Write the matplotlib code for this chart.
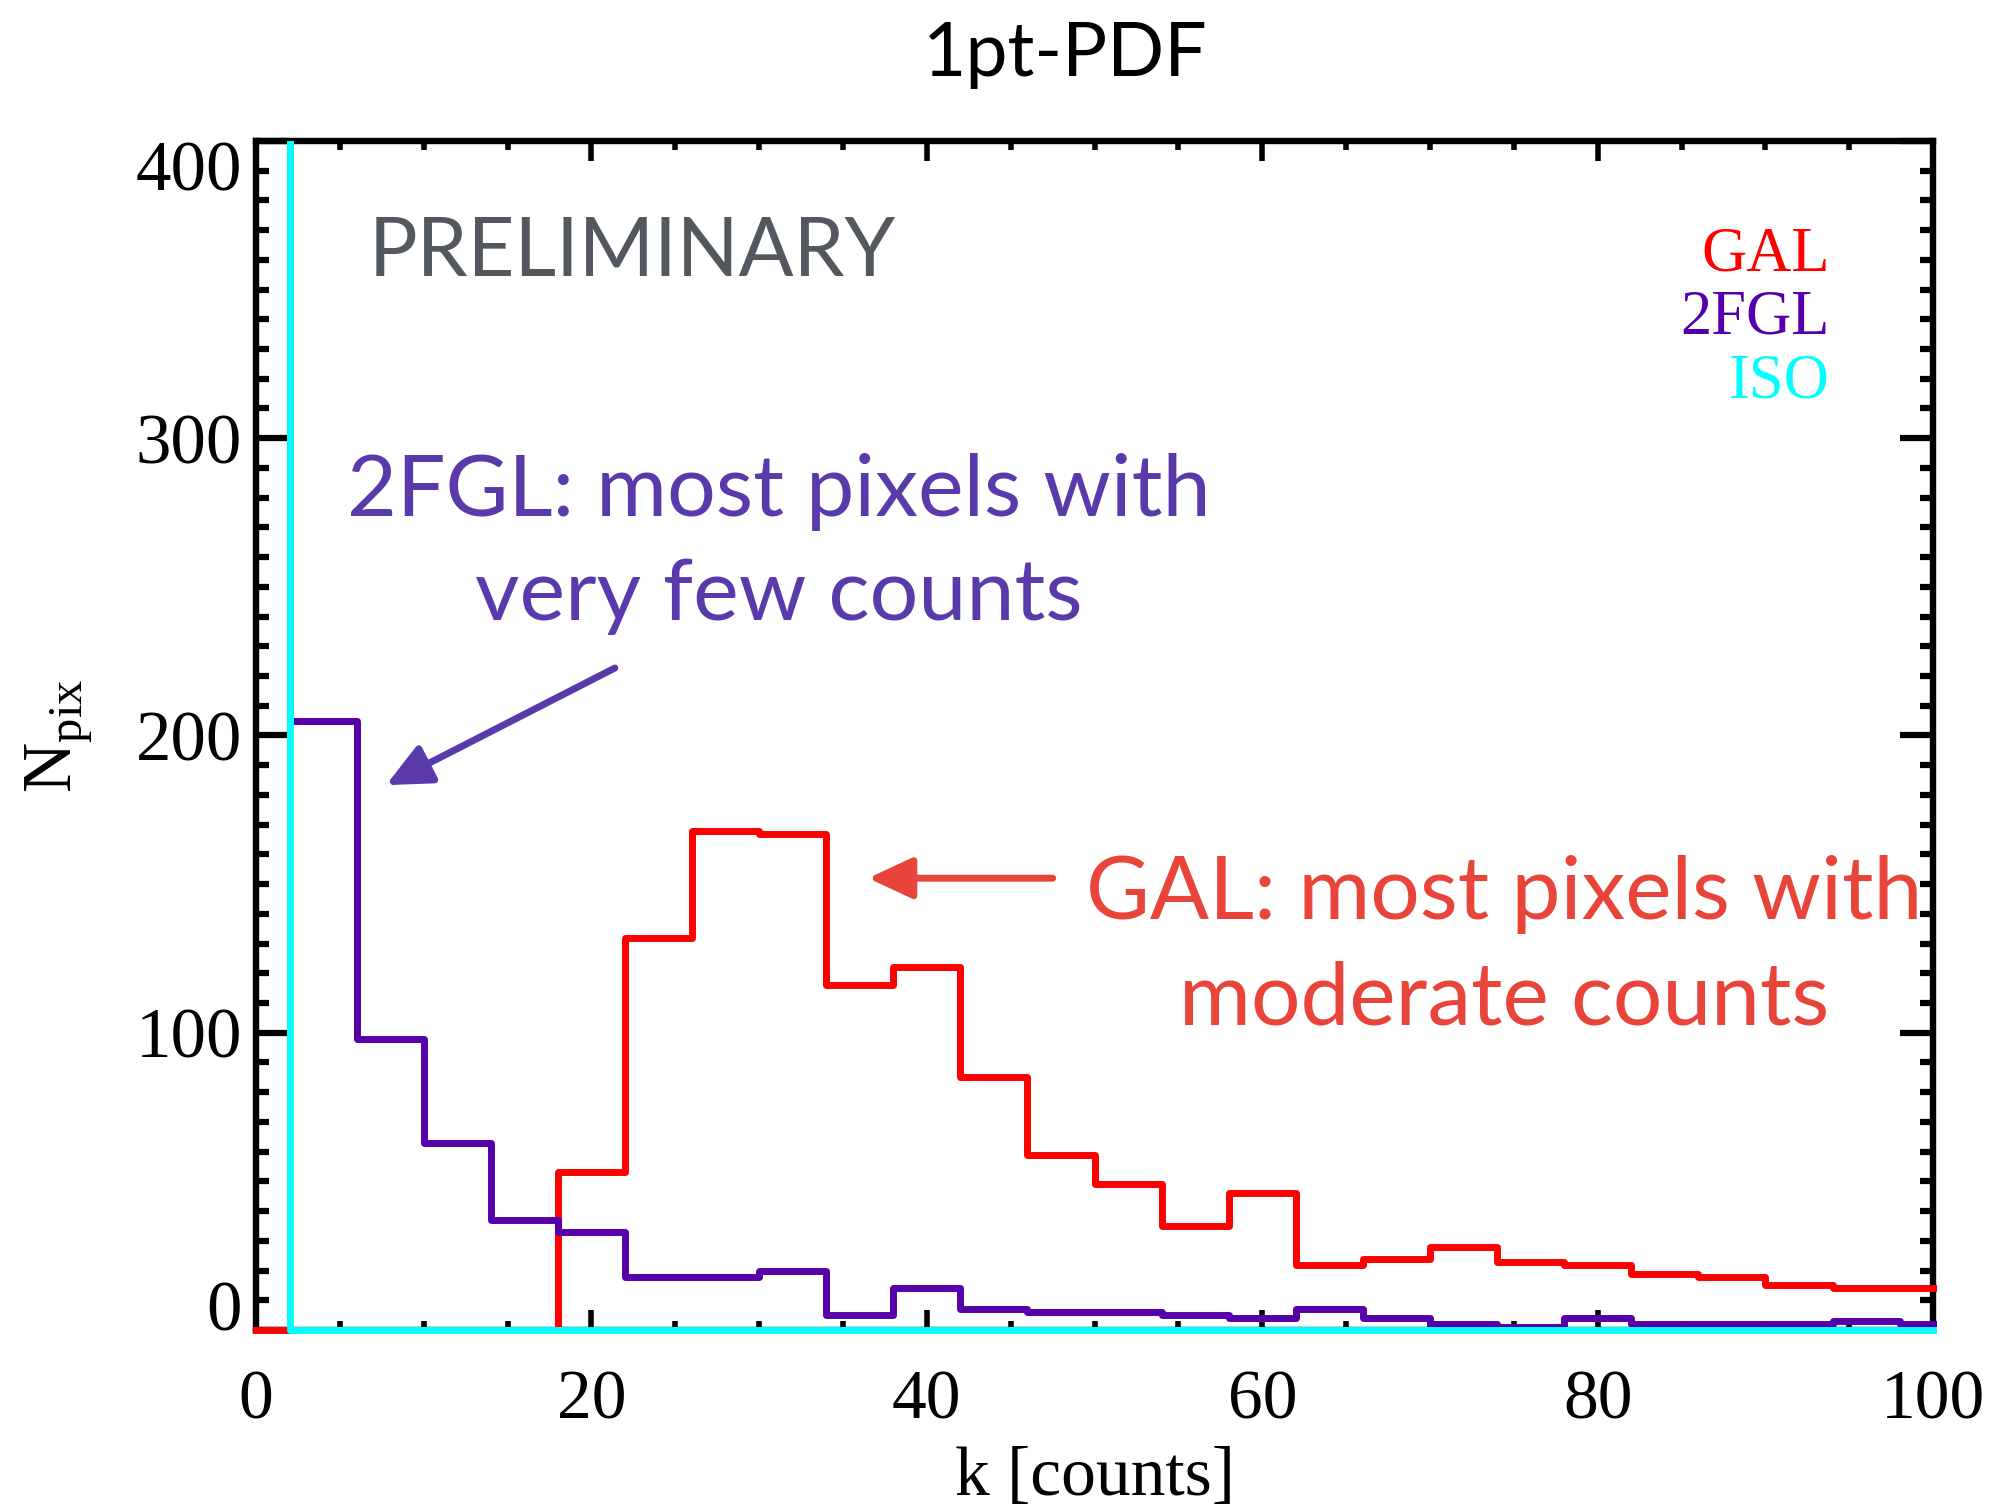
import numpy as np
import matplotlib.pyplot as plt
from matplotlib.patches import Rectangle
from matplotlib.ticker import MultipleLocator

plt.rcParams['font.family'] = ['Liberation Serif', 'DejaVu Serif']
plt.rcParams['mathtext.fontset'] = 'custom'
plt.rcParams['mathtext.rm'] = 'Liberation Serif'

# histogram points (bin centres, drawn as steps)
k = np.arange(0, 101, 4)
gal = [0, 0, 0, 0, 0, 53, 132, 168, 167, 116, 122, 85, 59, 49, 35, 46,
       22, 24, 28, 23, 22, 19, 18, 15, 14, 14]
fgl = [1500, 205, 98, 63, 37, 33, 18, 18, 20, 5, 14, 7, 6, 6, 5, 4,
       7, 4, 2, 1, 4, 2, 2, 2, 3, 2]
iso = [1400] + [0] * 25

names = ['GAL', '2FGL', 'ISO']
line_colors = ['#ff0000', '#5500aa', '#00ffff']
xticks = [0, 20, 40, 60, 80, 100]
yticks = [0, 100, 200, 300, 400]

sans = ['Lato', 'DejaVu Sans']
purple_txt = '#5a3aaa'
red_txt = '#e8443a'

fig = plt.figure(figsize=(19.95, 15.09), dpi=100)
ax = fig.add_axes([0.1283, 0.1186, 0.969 - 0.1283, 0.9066 - 0.1186])

clip = Rectangle((-0.01, -0.01), 1.02, 1.01, transform=ax.transAxes)
for vals, c in zip([gal, fgl, iso], line_colors):
    ln, = ax.step(k, vals, where='mid', color=c, lw=5, zorder=3)
    ln.set_clip_path(clip)

ax.set_xlim(0, 100)
ax.set_ylim(0, 400)
ax.set_xticks(xticks)
ax.set_yticks(yticks)
ax.xaxis.set_minor_locator(MultipleLocator(5))
ax.yaxis.set_minor_locator(MultipleLocator(10))
ax.tick_params(axis='both', which='both', direction='in', top=True, right=True)
ax.tick_params(axis='x', which='major', length=14.5, width=4, pad=28.5, labelsize=50)
ax.tick_params(axis='x', which='minor', length=6.5, width=4)
ax.tick_params(axis='y', which='major', length=24, width=4.5, pad=10, labelsize=51)
ax.tick_params(axis='y', which='minor', length=9.5, width=4.5)
for s in ax.spines.values():
    s.set_linewidth(4.6)
ylabs = ax.get_yticklabels()
ylabs[0].set_verticalalignment('baseline')
ylabs[-1].set_verticalalignment('top')

ax.set_xlabel('k [counts]', fontsize=50, labelpad=9.5)
ax.set_ylabel(r'N$_{\rm pix}$', fontsize=50)
ax.yaxis.set_label_coords(-0.0965, 0.5)

fig.text(0.534, 0.9496, '1pt-PDF', fontsize=54, family=sans, ha='center', va='baseline')

ax.text(6.7, 354.5, 'PRELIMINARY', fontsize=58.5, family=sans, color='#53575e',
        ha='left', va='baseline')

# legend-like labels
for name, c, yy in zip(names, line_colors, [356.5, 335.3, 313.8]):
    ax.text(93.85, yy, name, fontsize=45, color=c, ha='right', va='baseline')

ax.text(31.2, 274, '2FGL: most pixels with', fontsize=62, family=sans,
        color=purple_txt, ha='center', va='baseline')
ax.text(31.2, 238.8, 'very few counts', fontsize=62, family=sans,
        color=purple_txt, ha='center', va='baseline')
ax.text(74.4, 138.4, 'GAL: most pixels with', fontsize=63, family=sans,
        color=red_txt, ha='center', va='baseline', clip_on=False)
ax.text(74.4, 102.9, 'moderate counts', fontsize=63, family=sans,
        color=red_txt, ha='center', va='baseline')

arrow = dict(arrowstyle='-|>,head_length=0.45,head_width=0.21', lw=5,
             mutation_scale=60, shrinkA=0, shrinkB=0)
ax.annotate('', xy=(7.76, 183.3), xytext=(21.4, 222.7),
            arrowprops=dict(arrow, color=purple_txt))
ax.annotate('', xy=(36.5, 152), xytext=(47.5, 152),
            arrowprops=dict(arrow, color=red_txt))

fig.savefig('out.png', dpi=100)
